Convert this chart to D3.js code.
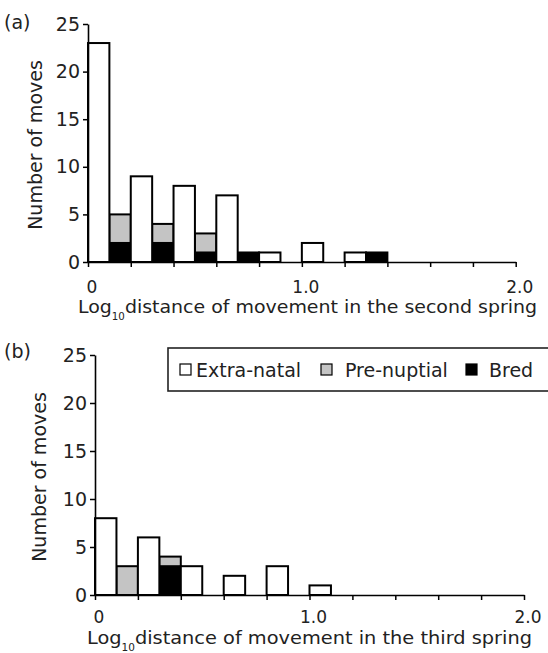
<!DOCTYPE html>
<html><head><meta charset="utf-8">
<script src="https://cdn.jsdelivr.net/npm/d3@7"></script>
<style>
html,body{margin:0;padding:0;background:#fff;}
text{font-family:"DejaVu Sans",sans-serif;fill:#222;}
</style></head>
<body>
<svg id="chart" width="548" height="653"></svg>
<script>
// ---------- data ----------
const binStartsA = [0.0,0.1,0.2,0.3,0.4,0.5,0.6,0.7,0.8,0.9,1.0,1.1,1.2,1.3];
const extraNatalA = [23,0,9,0,8,0,7,0,1,0,2,0,1,0];
const preNuptialA = [0,3,0,2,0,2,0,0,0,0,0,0,0,0];
const bredA       = [0,2,0,2,0,1,0,1,0,0,0,0,0,1];

const binStartsB = [0.0,0.1,0.2,0.3,0.4,0.5,0.6,0.7,0.8,0.9,1.0];
const extraNatalB = [8,0,6,0,3,0,2,0,3,0,1];
const preNuptialB = [0,3,0,1,0,0,0,0,0,0,0];
const bredB       = [0,0,0,3,0,0,0,0,0,0,0];

const binWidth = 0.1;
const yTicks = [0,5,10,15,20,25];
const xTicks = [0,0.2,0.4,0.6,0.8,1.0,1.2,1.4,1.6,1.8,2.0];
const xTickLabels = [[0,"0"],[1.0,"1.0"],[2.0,"2.0"]];
const seriesNames = ["Bred","Pre-nuptial","Extra-natal"];
const seriesColors = {"Bred":"#000000","Pre-nuptial":"#c4c4c4","Extra-natal":"#ffffff"};
const yTitle = "Number of moves";
const titleA = "distance of movement in the second spring";
const titleB = "distance of movement in the third spring";

const svg = d3.select("#chart");

function panel(cfg){
  const {bins, ext, pre, bred, x0, x1, yBase, yTop, label, labelY, tickLabelY, titleY, titleX, titleText, titleLen, yTitleX} = cfg;
  const x = d3.scaleLinear().domain([0,2]).range([x0,x1]);
  const y = d3.scaleLinear().domain([0,25]).range([yBase,yTop]);
  const g = svg.append("g");

  const rows = bins.map((b,i)=>({bin:b,"Bred":bred[i],"Pre-nuptial":pre[i],"Extra-natal":ext[i]}));
  const stacked = d3.stack().keys(seriesNames)(rows);
  stacked.forEach(s=>{
    g.append("g").selectAll("rect").data(s.filter(d=>d[1]-d[0]>0)).join("rect")
      .attr("x",d=>x(d.data.bin))
      .attr("width",d=>x(d.data.bin+binWidth)-x(d.data.bin))
      .attr("y",d=>y(d[1]))
      .attr("height",d=>y(d[0])-y(d[1]))
      .attr("fill",seriesColors[s.key])
      .attr("stroke","#000").attr("stroke-width",2);
  });

  // y axis
  const ya = g.append("g").attr("transform",`translate(${x0},0)`)
    .call(d3.axisLeft(y).tickValues(yTicks).tickSize(5).tickPadding(3).tickSizeOuter(0));
  ya.select(".domain").attr("stroke-width",1.6);
  ya.selectAll(".tick line").attr("stroke-width",1.5);
  ya.selectAll(".tick text").style("font-size","19px").attr("fill","#222");

  // x axis
  const xa = g.append("g").attr("transform",`translate(0,${yBase})`)
    .call(d3.axisBottom(x).tickValues(xTicks).tickSize(5).tickFormat("").tickSizeOuter(0));
  xa.select(".domain").attr("stroke-width",1.6);
  xa.selectAll(".tick line").attr("stroke-width",1.5);

  g.selectAll(".xlab").data(xTickLabels).join("text")
    .attr("x",d=>x(d[0])+4).attr("y",tickLabelY)
    .attr("text-anchor","middle").style("font-size","17px")
    .text(d=>d[1]);

  // x title with subscript
  const t = g.append("text").attr("x",titleX).attr("y",titleY).style("font-size","18.5px")
    .attr("textLength",titleLen).attr("lengthAdjust","spacingAndGlyphs");
  t.append("tspan").text("Log");
  t.append("tspan").attr("dy",7).style("font-size","10px").text("10");
  t.append("tspan").attr("dy",-7).text(titleText);

  // y title
  g.append("text")
    .attr("transform",`translate(${yTitleX},${(yBase+yTop)/2+2}) rotate(-90)`)
    .attr("text-anchor","middle").style("font-size","19px")
    .text(yTitle);

  // panel label
  g.append("text").attr("x",4).attr("y",labelY).style("font-size","19px").text(label);
  return {x,y};
}

panel({bins:binStartsA, ext:extraNatalA, pre:preNuptialA, bred:bredA,
  x0:88, x1:515.7, yBase:262, yTop:24, label:"(a)", labelY:29,
  tickLabelY:293, titleY:313, titleX:78, titleText:titleA, titleLen:459, yTitleX:42});

panel({bins:binStartsB, ext:extraNatalB, pre:preNuptialB, bred:bredB,
  x0:95, x1:524, yBase:595, yTop:355, label:"(b)", labelY:358,
  tickLabelY:623, titleY:644, titleX:87, titleText:titleB, titleLen:445, yTitleX:46});

// legend
const lg = svg.append("g");
lg.append("rect").attr("x",168).attr("y",348).attr("width",390).attr("height",43)
  .attr("fill","#fff").attr("stroke","#222").attr("stroke-width",1.6);
const legendItems = [["Extra-natal",180,196],["Pre-nuptial",321,345],["Bred",466,489]];
legendItems.forEach(([name,sx,tx])=>{
  lg.append("rect").attr("x",sx).attr("y",364).attr("width",11).attr("height",11)
    .attr("fill",seriesColors[name]).attr("stroke","#000").attr("stroke-width",1.2);
  lg.append("text").attr("x",tx).attr("y",377).style("font-size","19px").text(name);
});
</script>
</body></html>
